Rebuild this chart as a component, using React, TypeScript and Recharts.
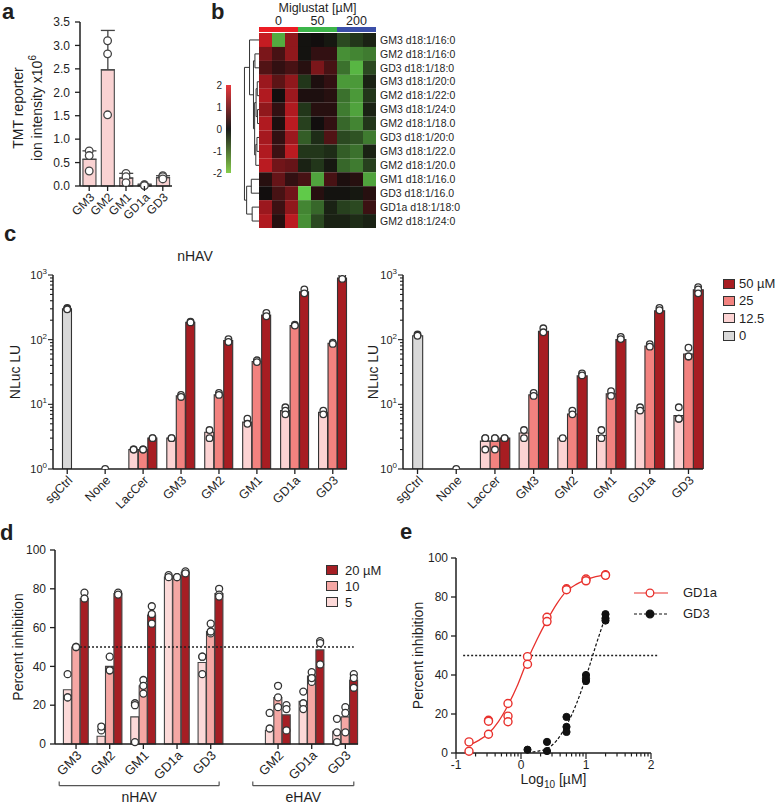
import React from 'react'
import {
  BarChart, Bar, Cell, ComposedChart, LineChart, Line, Scatter, XAxis, YAxis,
  ErrorBar, ReferenceLine, Legend,
} from 'recharts'

const FONT = '"Liberation Sans", Arial, Helvetica, sans-serif'
const INK = '#1f1f1f'

// ---- a: TMT reporter ion intensity (x10^6)
const A_CATS = ['GM3', 'GM2', 'GM1', 'GD1a', 'GD3']
const A_MEAN = [0.57, 2.48, 0.17, 0.02, 0.18]
const A_ERR = [0.18, 0.84, 0.1, 0.02, 0.04]
const A_REP1 = [0.75, 3.1, 0.27, 0.03, 0.22]
const A_REP2 = [0.65, 2.82, 0.2, 0.02, 0.2]
const A_REP3 = [0.32, 1.52, 0.07, 0.01, 0.15]
const A_TICKS = [0, 0.5, 1, 1.5, 2, 2.5, 3, 3.5]

// ---- b: heatmap
const HEAT_ROWS = [
  'GM3 d18:1/16:0', 'GM2 d18:1/16:0', 'GD3 d18:1/18:0', 'GM3 d18:1/20:0', 'GM2 d18:1/22:0',
  'GM3 d18:1/24:0', 'GM2 d18:1/18.0', 'GD3 d18:1/20:0', 'GM3 d18:1/22.0', 'GM2 d18:1/20.0',
  'GM1 d18:1/16.0', 'GD3 d18:1/16.0', 'GD1a d18:1/18:0', 'GM2 d18:1/24:0',
]
const HEAT_SAMPLES = ['0a', '0b', '0c', '50a', '50b', '50c', '200a', '200b', '200c']
const HEAT_Z = [
  [1.7, -1.6, 1.2, -0.05, 0.0, -0.1, -0.6, -0.4, -0.2],
  [1.0, 0.5, 1.2, -0.05, 0.3, 0.3, -1.3, -1.2, -1.1],
  [0.6, 0.3, 0.5, 0.2, 1.0, 0.5, -1.0, -1.7, -0.6],
  [1.3, 0.7, 1.2, -0.4, 0.1, 0.3, -1.4, -1.4, -0.2],
  [1.5, 0.0, 1.3, 0.1, 0.1, 0.2, -1.0, -1.4, -0.4],
  [1.2, 0.3, 1.5, -0.4, 0.2, 0.2, -1.1, -1.5, -0.2],
  [1.5, 0.1, 1.6, -0.5, 0.0, 0.3, -0.9, -1.2, -0.4],
  [1.4, 0.3, 1.3, -0.8, -0.3, 0.6, -0.6, -0.7, -1.1],
  [1.5, 0.4, 1.6, -0.4, -0.4, -0.3, -0.8, -1.0, -0.2],
  [1.6, 0.9, 0.8, -0.2, -0.4, -0.1, -0.9, -1.1, -0.5],
  [0.2, 0.8, 0.3, 0.5, -1.5, 0.5, 0.1, 0.2, -1.5],
  [0.0, 0.5, 0.9, -1.9, 0.2, -0.05, -0.05, -0.1, 0.2],
  [1.3, 0.4, 1.2, -1.2, -0.9, -0.2, -0.5, -0.6, 0.4],
  [1.5, 0.2, 1.6, -1.3, -0.6, -0.2, -0.2, -0.3, -0.2],
]
const DOSE_LABELS = ['0', '50', '200']
const DOSE_REPS = [3, 3, 3]
const DOSE_COLORS = ['#ec1c24', '#3cb54a', '#3b4fa8']
const Z_TICKS = [-2, -1, 0, 1, 2]
// [left node, right node, height]; nodes >= 14 are earlier merges
const DENDRO = [
  [3, 4, 0.12], [5, 6, 0.1], [14, 15, 0.2], [7, 8, 0.14], [17, 9, 0.22],
  [16, 18, 0.3], [1, 2, 0.28], [20, 19, 0.38], [0, 21, 0.65],
  [10, 11, 0.53], [12, 13, 0.47], [23, 24, 0.85], [22, 25, 1.0],
]

// ---- c: NLuc LU
const C_GROUPS = ['sgCtrl', 'None', 'LacCer', 'GM3', 'GM2', 'GM1', 'GD1a', 'GD3']
const C_DOSES = ['12.5', '25', '50 µM']
const NH_CTRL = [300, 1, null, null, null, null, null, null]
const NH_12 = [null, null, 2.0, 3.0, 3.7, 5.3, 8.0, 7.5]
const NH_25 = [null, null, 2.0, 13.5, 14, 46, 165, 88]
const NH_50 = [null, null, 3.0, 185, 97, 240, 550, 900]
const NH_CTRL_PTS = [[310, 300, 295], [1]]
const NH_12_PTS = [[], [], [2, 2], [3, 3], [4, 3], [6, 5], [9, 8, 7], [8, 7]]
const NH_25_PTS = [[], [], [2, 2], [14, 13], [15, 14], [48, 45], [170, 165], [90, 86]]
const NH_50_PTS = [[], [], [3, 3], [190, 185], [102, 92], [260, 230], [600, 520], [1000, 870]]
const EH_CTRL = [115, 1, null, null, null, null, null, null]
const EH_12 = [null, null, 2.7, 3.6, 3.0, 3.3, 8.0, 6.7]
const EH_25 = [null, null, 2.7, 14, 7.1, 14.5, 80, 60]
const EH_50 = [null, null, 3.0, 135, 27.5, 100, 280, 590]
const EH_CTRL_PTS = [[120, 115], [1]]
const EH_12_PTS = [[], [], [3, 3, 2], [4, 3], [3], [4, 3], [9, 8], [9, 6, 6]]
const EH_25_PTS = [[], [], [3, 3, 2], [15, 13.5], [8, 7], [16, 13.5], [85, 78], [75, 55, 55]]
const EH_50_PTS = [[], [], [3, 3], [150, 130], [30, 28], [110, 102], [310, 285], [650, 600, 520]]
const C_COLORS = ['#fcd3d3', '#f2827f', '#a71d22']
const C_GREY = '#d9d9d9'
const C_LOG_TICKS = [1, 2, 3, 4, 5, 6, 7, 8, 9, 10, 20, 30, 40, 50, 60, 70, 80, 90, 100,
  200, 300, 400, 500, 600, 700, 800, 900, 1000]

// ---- d: percent inhibition
const D_NHAV = ['GM3', 'GM2', 'GM1', 'GD1a', 'GD3']
const D_EHAV = ['GM2', 'GD1a', 'GD3']
const D_DOSES = ['5', '10', '20 µM']
const D_N_5 = [28, 4, 14, 86, 42]
const D_N_10 = [50, 40, 30, 86, 58]
const D_N_20 = [75, 77.5, 66.5, 88.5, 77.5]
const D_E_5 = [7, 22, 6.5]
const D_E_10 = [24, 35, 14]
const D_E_20 = [15, 48.5, 33]
const D_N_5_PTS = [[36, 24, 24], [7, 9], [21, 20, 1], [87, 86], [45, 45, 36]]
const D_N_10_PTS = [[50, 50], [45, 38, 38], [33, 30, 26], [86, 86], [62, 57, 58]]
const D_N_20_PTS = [[78, 75], [78, 77], [71, 67, 62], [89, 88], [80, 77, 76]]
const D_E_5_PTS = [[16, 8], [27, 21, 18], [13, 6, 1]]
const D_E_10_PTS = [[30, 24, 19], [37, 32, 34], [19, 16, 6]]
const D_E_20_PTS = [[20, 18, 7], [53, 52, 41], [36, 34, 29]]
const D_COLORS = ['#fcd9d8', '#f5a7a4', '#a51e24']
const PCT_TICKS = [0, 20, 40, 60, 80, 100]

// ---- e: dose response
const E_GD1A_X = [-0.8, -0.5, -0.2, 0.1, 0.4, 0.7, 1.0, 1.3]
const E_GD1A_PTS = [[5.7, 0.9], [16.8, 16.3, 9.6], [25.4, 18.9, 16], [49.4, 45.5],
  [69.6, 67.4], [84.2, 83.7], [89.2, 88.3], [91.4, 91.1]]
const E_GD3_X = [0.1, 0.4, 0.7, 1.0, 1.3]
const E_GD3_PTS = [[1.7], [5.7, 1], [18.5, 13.4, 10.8], [40, 38.2, 36.9], [71.2, 69.1, 67.9]]
const E_GD1A_FIT_X = [-0.8, -0.65, -0.5, -0.35, -0.2, -0.05, 0.1, 0.25, 0.4, 0.55, 0.7, 0.85, 1.0, 1.15, 1.3]
const E_GD1A_FIT_Y = [4, 6.5, 10, 16, 24.5, 35, 47.7, 58.5, 68, 76.5, 83, 86.5, 88.8, 90.4, 91.4]
const E_GD3_FIT_X = [0.1, 0.25, 0.4, 0.55, 0.7, 0.85, 1.0, 1.15, 1.3]
const E_GD3_FIT_Y = [0.2, 0.9, 2.2, 6.5, 14.2, 25, 39, 55, 70]
const E_MAJOR = [-1, 0, 1, 2]
const E_RED = '#e8312d'

// ---------- helpers
const pick = (a: number[] | undefined, k: number) => (a && a[k] !== undefined ? a[k] : null)

function heatColor(z: number) {
  const t = Math.min(Math.abs(z) / 2, 1)
  const m = (a: number, b: number) => Math.round(a + (b - a) * t)
  return z >= 0
    ? `rgb(${m(18, 228)},${m(14, 30)},${m(14, 38)})`
    : `rgb(${m(18, 100)},${m(14, 212)},${m(14, 76)})`
}

// each merge becomes one bracket path: child A -> merge height -> child B
function dendroLinks() {
  const nodes = HEAT_ROWS.map((_, i) => ({ y: i, h: 0 }))
  const links: { h: number; y: number }[][] = []
  DENDRO.forEach(([a, b, h]) => {
    const A = nodes[a]
    const B = nodes[b]
    links.push([{ h: A.h, y: A.y }, { h, y: A.y }, { h, y: B.y }, { h: B.h, y: B.y }])
    nodes.push({ y: (A.y + B.y) / 2, h })
  })
  return links
}

function cTable(ctrl: (number | null)[], ctrlPts: number[][], vals: (number | null)[][], pts: number[][][]) {
  const rows: any[] = []
  C_GROUPS.forEach((g, gi) => {
    if (gi > 0) rows.push({ id: `gap${gi}` })
    for (let s = 0; s < 3; s++) {
      const isCtrl = ctrl[gi] !== null
      const v = isCtrl ? (s === 1 ? ctrl[gi] : null) : vals[s][gi]
      const p = isCtrl ? (s === 1 ? ctrlPts[gi] : []) : pts[s][gi]
      rows.push({
        id: `${g}-${s}`, label: s === 1 ? g : undefined, v,
        fill: isCtrl ? C_GREY : C_COLORS[s], p1: pick(p, 0), p2: pick(p, 1), p3: pick(p, 2),
      })
    }
  })
  return rows
}

function dTable() {
  const rows: any[] = [{ id: 'pad0' }]
  const add = (pre: string, groups: string[], vals: number[][], pts: number[][][]) => {
    groups.forEach((g, gi) => {
      if (gi > 0) rows.push({ id: `${pre}-sp${gi}` })
      for (let s = 0; s < 3; s++) {
        const p = pts[s][gi]
        rows.push({
          id: `${pre}-${g}-${s}`, label: s === 1 ? g : undefined, v: vals[s][gi],
          fill: D_COLORS[s], p1: pick(p, 0), p2: pick(p, 1), p3: pick(p, 2),
        })
      }
    })
  }
  add('N', D_NHAV, [D_N_5, D_N_10, D_N_20], [D_N_5_PTS, D_N_10_PTS, D_N_20_PTS])
  for (let k = 0; k < 5; k++) rows.push({ id: `brk${k}` })
  add('E', D_EHAV, [D_E_5, D_E_10, D_E_20], [D_E_5_PTS, D_E_10_PTS, D_E_20_PTS])
  return rows
}

const ring = (r: number, stroke: string, fill = '#fff', sw = 1.3) => (p: any) =>
  Number.isFinite(p.cx) && Number.isFinite(p.cy)
    ? <circle cx={p.cx} cy={p.cy} r={r} fill={fill} stroke={stroke} strokeWidth={sw} />
    : <g />

function SlantTick({ x, y, label, size = 12 }: any) {
  if (!label) return <g />
  return (
    <g transform={`translate(${x},${y})`}>
      <line x1={0} y1={0} x2={0} y2={5} stroke={INK} strokeWidth={1.3} />
      <text x={3} y={9} dy="0.35em" transform="rotate(-45 3 9)" textAnchor="end" fontSize={size} fill={INK}>
        {label}
      </text>
    </g>
  )
}

function LogYTick({ x, y, payload }: any) {
  const e = Math.log10(payload.value)
  const major = Math.abs(e - Math.round(e)) < 1e-6
  return (
    <g>
      <line x1={x - (major ? 5 : 3)} x2={x} y1={y} y2={y} stroke={INK} strokeWidth={1.1} />
      {major && (
        <text x={x - 6} y={y} dy="0.35em" textAnchor="end" fontSize={11} fill={INK}>
          10<tspan dy={-5} fontSize={8}>{Math.round(e)}</tspan>
        </text>
      )}
    </g>
  )
}

function LogXTick({ x, y, payload }: any) {
  const v = payload.value
  const major = Math.abs(v - Math.round(v)) < 1e-6
  return (
    <g>
      <line x1={x} x2={x} y1={y} y2={y + (major ? 6 : 3.5)} stroke={INK} strokeWidth={1.2} />
      {major && <text x={x} y={y + 16} textAnchor="middle" fontSize={12} fill={INK}>{Math.round(v)}</text>}
    </g>
  )
}

const yTitle = (lines: React.ReactNode[], xs: number[], size = 14, shift = 0) => (props: any) => {
  const vb = props.viewBox
  const cy = vb.y + vb.height / 2 + shift
  return (
    <g>
      {lines.map((l, i) => (
        <text key={i} transform={`translate(${xs[i]},${cy}) rotate(-90)`} textAnchor="middle"
          dy="0.35em" fontSize={size} fill={INK}>{l}</text>
      ))}
    </g>
  )
}

function SwatchLegend({ items, colors, row, gap = 7 }: { items: string[]; colors: string[]; row: number; gap?: number }) {
  return (
    <div style={{ fontFamily: FONT, fontSize: 13, color: INK, lineHeight: 1, whiteSpace: 'nowrap' }}>
      {items.map((it, i) => (
        <div key={it} style={{ display: 'flex', alignItems: 'center', height: row }}>
          <span style={{
            display: 'inline-block', width: 12, height: 10, background: colors[i],
            border: '1.2px solid #333', boxSizing: 'border-box', marginRight: gap, flexShrink: 0,
          }} />
          {it}
        </div>
      ))}
    </div>
  )
}

function CurveLegend() {
  const items = [
    { name: 'GD1a', color: E_RED, dash: undefined, fill: '#fff' },
    { name: 'GD3', color: '#111', dash: '3 2', fill: '#111' },
  ]
  return (
    <div style={{ fontFamily: FONT, fontSize: 13, color: INK, lineHeight: 1 }}>
      {items.map((it) => (
        <div key={it.name} style={{ display: 'flex', alignItems: 'center', height: 21 }}>
          <svg width={36} height={12} style={{ marginRight: 14 }}>
            <line x1={1} x2={35} y1={6} y2={6} stroke={it.color} strokeWidth={1.2} strokeDasharray={it.dash} />
            <circle cx={17} cy={6} r={3.8} fill={it.fill} stroke={it.color} strokeWidth={1.3} />
          </svg>
          {it.name}
        </div>
      ))}
    </div>
  )
}

const Letter = ({ ch, x, y }: { ch: string; x: number; y: number }) => (
  <div style={{ position: 'absolute', left: x, top: y, fontSize: 22, fontWeight: 'bold', lineHeight: 1 }}>{ch}</div>
)

const Place = ({ x, y, children }: { x: number; y: number; children: React.ReactNode }) => (
  <div style={{ position: 'absolute', left: x, top: y }}>{children}</div>
)

const axisLine = { stroke: INK, strokeWidth: 1.5 }

function NlucChart({ data, title, legend }: { data: any[]; title: number; legend: boolean }) {
  const labels = new Map(data.map((r) => [r.id, r.label]))
  return (
    <ComposedChart width={legend ? 426 : 350} height={250} data={data}
      margin={{ top: 13, right: legend ? 73 : 3, bottom: 0, left: 0 }} barCategoryGap={0} barGap={0}>
      <XAxis dataKey="id" type="category" allowDuplicatedCategory={false} interval={0} height={43}
        axisLine={axisLine} tickLine={false} tickSize={0} tickMargin={0}
        tick={(p: any) => <SlantTick {...p} label={labels.get(p.payload.value)} size={12.5} />} />
      <YAxis scale="log" domain={[1, 1000]} allowDataOverflow ticks={C_LOG_TICKS} interval={0}
        width={53} axisLine={axisLine} tickLine={false} tickSize={0} tickMargin={0} tick={<LogYTick />}
        label={{ content: yTitle(['NLuc LU'], [title]) }} />
      <Bar dataKey="v" stroke="#333" strokeWidth={1.1} isAnimationActive={false}>
        {data.map((r, i) => <Cell key={i} fill={r.fill || 'none'} />)}
      </Bar>
      {['p1', 'p2', 'p3'].map((k) => (
        <Scatter key={k} dataKey={k} shape={ring(3.3, '#333')} isAnimationActive={false} />
      ))}
      {legend && (
        <Legend layout="horizontal" verticalAlign="middle" align="center"
          wrapperStyle={{ position: 'absolute', left: 373, top: 13, width: 52, height: 70 }}
          content={() => (
            <SwatchLegend items={[...C_DOSES].reverse().concat('0')}
              colors={[...C_COLORS].reverse().concat(C_GREY)} row={17.3} gap={4} />
          )} />
      )}
    </ComposedChart>
  )
}

export default function App() {
  const aData = A_CATS.map((c, i) => ({
    cat: c, v: A_MEAN[i], err: [0, A_ERR[i]], p1: A_REP1[i], p2: A_REP2[i], p3: A_REP3[i],
  }))
  const heatData = HEAT_ROWS.map((name) => {
    const row: any = { name }
    HEAT_SAMPLES.forEach((s) => { row[s] = 1 })
    return row
  })
  const stripRow: any = { name: 'dose' }
  DOSE_LABELS.forEach((d, k) => { stripRow[d] = DOSE_REPS[k] })
  const stripTicks = DOSE_REPS.map((n, k) => DOSE_REPS.slice(0, k).reduce((a, b) => a + b, 0) + n / 2)
  const links = dendroLinks()
  const nh = cTable(NH_CTRL, NH_CTRL_PTS, [NH_12, NH_25, NH_50], [NH_12_PTS, NH_25_PTS, NH_50_PTS])
  const eh = cTable(EH_CTRL, EH_CTRL_PTS, [EH_12, EH_25, EH_50], [EH_12_PTS, EH_25_PTS, EH_50_PTS])
  const dData = dTable()
  const dLabels = new Map(dData.map((r) => [r.id, r.label]))
  const gd1aPts = E_GD1A_X.flatMap((x, i) => E_GD1A_PTS[i].map((y) => ({ x, y })))
  const gd3Pts = E_GD3_X.flatMap((x, i) => E_GD3_PTS[i].map((y) => ({ x, y })))
  const gd1aFit = E_GD1A_FIT_X.map((x, i) => ({ x, y: E_GD1A_FIT_Y[i] }))
  const gd3Fit = E_GD3_FIT_X.map((x, i) => ({ x, y: E_GD3_FIT_Y[i] }))
  const eTicks: number[] = []
  E_MAJOR.forEach((m, i) => {
    eTicks.push(m)
    if (i < E_MAJOR.length - 1) for (let k = 2; k <= 9; k++) eTicks.push(m + Math.log10(k))
  })
  const dLast = dData[dData.length - 1].id
  const brackets = [
    { from: 'pad0', to: 'N-GD3-2', name: 'nHAV' },
    { from: 'brk3', to: dLast, name: 'eHAV' },
  ]

  return (
    <div style={{ position: 'absolute', left: 0, top: 0, width: 776, height: 806, background: '#fff', fontFamily: FONT, color: INK, overflow: 'hidden' }}>
      <Letter ch="a" x={2} y={1} />
      <Letter ch="b" x={211} y={1} />
      <Letter ch="c" x={4} y={223} />
      <Letter ch="d" x={0} y={522} />
      <Letter ch="e" x={400} y={521} />

      {/* a */}
      <Place x={0} y={0}>
        <ComposedChart width={180} height={232} data={aData} margin={{ top: 22, right: 8, bottom: 0, left: 0 }} barCategoryGap="16%">
          <XAxis dataKey="cat" interval={0} height={46} axisLine={axisLine} tickLine={false} tickSize={0} tickMargin={0}
            tick={(p: any) => <SlantTick {...p} label={p.payload.value} size={12} />} />
          <YAxis domain={[0, 3.5]} ticks={A_TICKS} interval={0} width={80} axisLine={axisLine}
            tickLine={{ stroke: INK, strokeWidth: 1.3 }} tickSize={5} tickMargin={5}
            tickFormatter={(v: number) => v.toFixed(1)} tick={{ fontSize: 12, fill: INK }}
            label={{ content: yTitle(['TMT reporter', <>ion intensity x10<tspan dy={-6} fontSize={10}>6</tspan></>], [18, 37], 14, 4) }} />
          <Bar dataKey="v" fill="#f9d2d2" stroke="#555" strokeWidth={1.2} isAnimationActive={false}>
            <ErrorBar dataKey="err" width={7} stroke="#444" strokeWidth={1.3} direction="y" />
          </Bar>
          {['p1', 'p2', 'p3'].map((k) => (
            <Scatter key={k} dataKey={k} shape={ring(3.8, '#444')} isAnimationActive={false} />
          ))}
        </ComposedChart>
      </Place>

      {/* b: color scale */}
      <Place x={204} y={79}>
        <BarChart width={27} height={100} data={[{ name: 'z', range: [Z_TICKS[0], Z_TICKS[Z_TICKS.length - 1]] }]}
          margin={{ top: 6, right: 0, bottom: 6, left: 0 }} barCategoryGap={0}>
          <defs>
            <linearGradient id="zgrad" x1="0" y1="0" x2="0" y2="1">
              <stop offset="0" stopColor="#e8383d" />
              <stop offset="0.5" stopColor="#1a1a1a" />
              <stop offset="1" stopColor="#86cc4c" />
            </linearGradient>
          </defs>
          <XAxis dataKey="name" hide />
          <YAxis domain={[-2, 2]} ticks={Z_TICKS} interval={0} width={22} axisLine={false} tickLine={false}
            tickSize={0} tickMargin={4} tick={{ fontSize: 10, fill: INK }} />
          <Bar dataKey="range" fill="url(#zgrad)" isAnimationActive={false} />
        </BarChart>
      </Place>

      {/* b: dendrogram */}
      <Place x={243} y={33}>
        <LineChart width={16} height={195} margin={{ top: 0, right: 0, bottom: 0, left: 0 }}>
          <XAxis type="number" dataKey="h" domain={[0, 1.1]} reversed hide allowDataOverflow />
          <YAxis type="number" domain={[-0.5, HEAT_ROWS.length - 0.5]} reversed hide allowDataOverflow />
          {links.map((pts, i) => (
            <Line key={i} data={pts} dataKey="y" type="linear" stroke="#333" strokeWidth={1}
              dot={false} isAnimationActive={false} />
          ))}
        </LineChart>
      </Place>

      {/* b: dose strip */}
      <Place x={259} y={0}>
        <BarChart layout="vertical" width={117} height={32} data={[stripRow]}
          margin={{ top: 0, right: 0, bottom: 0, left: 0 }} barCategoryGap={0}>
          <XAxis type="number" orientation="top" domain={[0, HEAT_SAMPLES.length]} ticks={stripTicks} interval={0}
            tickFormatter={(v: number, i: number) => DOSE_LABELS[i]} height={27} axisLine={false} tickLine={false}
            tickSize={0} tickMargin={2} tick={{ fontSize: 12.5, fill: INK }}
            label={{
              content: (p: any) => (
                <text x={p.viewBox.x + p.viewBox.width / 2} y={p.viewBox.y + 12} textAnchor="middle" fontSize={12.5} fill={INK}>
                  Miglustat [µM]
                </text>
              ),
            }} />
          <YAxis type="category" dataKey="name" hide />
          {DOSE_LABELS.map((d, k) => (
            <Bar key={d} dataKey={d} stackId="s" fill={DOSE_COLORS[k]} isAnimationActive={false} />
          ))}
        </BarChart>
      </Place>

      {/* b: heatmap */}
      <Place x={259} y={33}>
        <BarChart layout="vertical" width={247} height={195} data={heatData}
          margin={{ top: 0, right: 0, bottom: 0, left: 0 }} barCategoryGap={0}>
          <XAxis type="number" domain={[0, HEAT_SAMPLES.length]} hide />
          <YAxis type="category" dataKey="name" orientation="right" width={130} interval={0}
            axisLine={false} tickLine={false} tickSize={2} tickMargin={2}
            tick={{ fontSize: 10.5, fill: INK, fontFamily: '"Liberation Sans Narrow", "Liberation Sans", Arial' }} />
          {HEAT_SAMPLES.map((s, j) => (
            <Bar key={s} dataKey={s} stackId="h" isAnimationActive={false}>
              {HEAT_Z.map((row, i) => <Cell key={i} fill={heatColor(row[j])} />)}
            </Bar>
          ))}
        </BarChart>
      </Place>

      {/* c */}
      <div style={{ position: 'absolute', left: 165, top: 249, width: 60, textAlign: 'center', fontSize: 14, lineHeight: 1 }}>nHAV</div>
      <Place x={0} y={262}>
        <NlucChart data={nh} title={15} legend={false} />
      </Place>
      <Place x={350} y={262}>
        <NlucChart data={eh} title={23} legend />
      </Place>

      {/* d */}
      <Place x={0} y={538}>
        <ComposedChart width={400} height={268} data={dData} margin={{ top: 12, right: 42, bottom: 0, left: 0 }}
          barCategoryGap={0} barGap={0}>
          <XAxis dataKey="id" type="category" allowDuplicatedCategory={false} interval={0} height={62}
            axisLine={axisLine} tickLine={false} tickSize={0} tickMargin={0}
            tick={(p: any) => <SlantTick {...p} label={dLabels.get(p.payload.value)} size={13} />} />
          <YAxis domain={[0, 100]} ticks={PCT_TICKS} interval={0} width={55} axisLine={axisLine}
            tickLine={{ stroke: INK, strokeWidth: 1.3 }} tickSize={5} tickMargin={4} tick={{ fontSize: 12, fill: INK }}
            label={{ content: yTitle(['Percent inhibition'], [18]) }} />
          <Bar dataKey="v" stroke="#444" strokeWidth={1.1} isAnimationActive={false}>
            {dData.map((r, i) => <Cell key={i} fill={r.fill || 'none'} />)}
          </Bar>
          {['p1', 'p2', 'p3'].map((k) => (
            <Scatter key={k} dataKey={k} shape={ring(3.5, '#333')} isAnimationActive={false} />
          ))}
          <ReferenceLine segment={[{ x: 'N-GM3-1', y: 50 }, { x: dLast, y: 50 }]} stroke={INK}
            strokeWidth={1.5} strokeDasharray="2 2" ifOverflow="visible" />
          {brackets.map((b) => [
            <ReferenceLine key={b.name + 'h'} segment={[{ x: b.from, y: -21.5 }, { x: b.to, y: -21.5 }]}
              stroke="#555" strokeWidth={1.2} ifOverflow="visible"
              label={{ value: b.name, position: 'bottom', offset: 6, fontSize: 14, fill: INK }} />,
            <ReferenceLine key={b.name + 'l'} segment={[{ x: b.from, y: -21.5 }, { x: b.from, y: -19.3 }]}
              stroke="#555" strokeWidth={1.2} ifOverflow="visible" />,
            <ReferenceLine key={b.name + 'r'} segment={[{ x: b.to, y: -21.5 }, { x: b.to, y: -19.3 }]}
              stroke="#555" strokeWidth={1.2} ifOverflow="visible" />,
          ])}
          <Legend layout="horizontal" verticalAlign="middle" align="center"
            wrapperStyle={{ position: 'absolute', left: 326, top: 24, width: 60, height: 50 }}
            content={() => <SwatchLegend items={[...D_DOSES].reverse()} colors={[...D_COLORS].reverse()} row={16} />} />
        </ComposedChart>
      </Place>

      {/* e */}
      <Place x={400} y={538}>
        <ComposedChart width={376} height={268} margin={{ top: 20, right: 125, bottom: 0, left: 0 }}>
          <XAxis type="number" dataKey="x" domain={[-1, 2]} ticks={eTicks} interval={0} height={53}
            allowDataOverflow axisLine={axisLine} tickLine={false} tickSize={0} tickMargin={0} tick={<LogXTick />}
            label={{
              content: (p: any) => (
                <text x={p.viewBox.x + p.viewBox.width / 2} y={p.viewBox.y + 31} textAnchor="middle" fontSize={14} fill={INK}>
                  Log<tspan dy={4} fontSize={10}>10</tspan><tspan dy={-4}> [µM]</tspan>
                </text>
              ),
            }} />
          <YAxis type="number" domain={[0, 100]} ticks={PCT_TICKS} interval={0} width={56} axisLine={axisLine}
            tickLine={{ stroke: INK, strokeWidth: 1.3 }} tickSize={5} tickMargin={3} tick={{ fontSize: 12, fill: INK }}
            label={{ content: yTitle(['Percent inhibition'], [18]) }} />
          <ReferenceLine segment={[{ x: -0.89, y: 50 }, { x: 2.11, y: 50 }]} stroke={INK}
            strokeWidth={1.5} strokeDasharray="2 2" ifOverflow="visible" />
          <Line data={gd1aFit} dataKey="y" type="monotone" stroke={E_RED} strokeWidth={1.3} dot={false} isAnimationActive={false} />
          <Line data={gd3Fit} dataKey="y" type="monotone" stroke="#111" strokeWidth={1.2} strokeDasharray="3 2" dot={false} isAnimationActive={false} />
          <Scatter data={gd1aPts} dataKey="y" shape={ring(4, E_RED, '#fff', 1.4)} isAnimationActive={false} />
          <Scatter data={gd3Pts} dataKey="y" shape={ring(3.6, '#111', '#111', 1)} isAnimationActive={false} />
          <Legend layout="horizontal" verticalAlign="middle" align="center"
            wrapperStyle={{ position: 'absolute', left: 233, top: 44, width: 110, height: 45 }}
            content={() => <CurveLegend />} />
        </ComposedChart>
      </Place>
    </div>
  )
}
